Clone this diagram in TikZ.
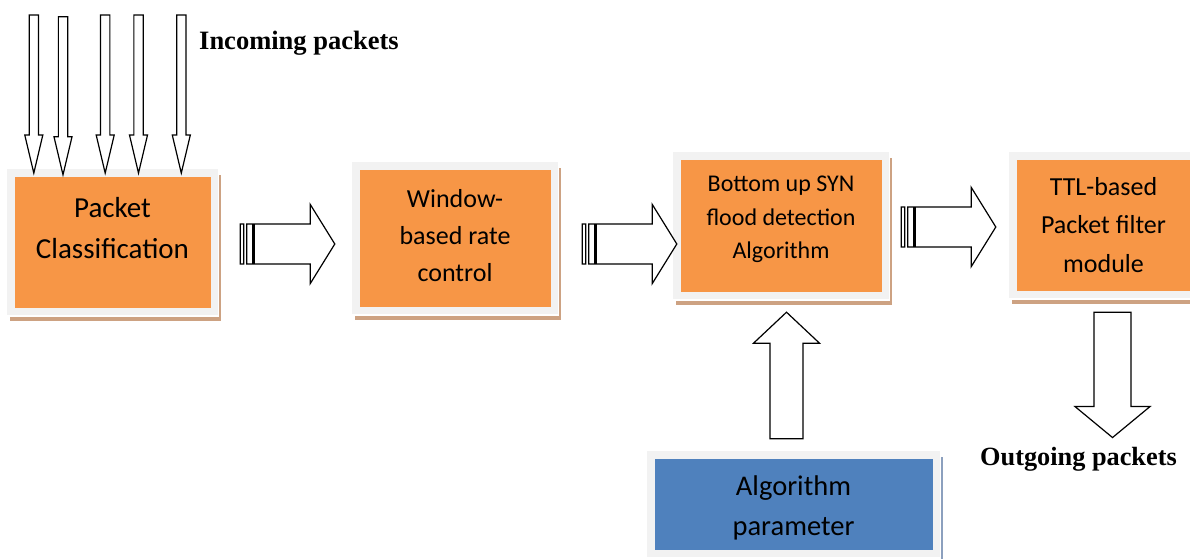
\documentclass[tikz,border=0pt]{standalone}
\usepackage{fontspec}
\setmainfont{Liberation Serif}
\newfontfamily\boxfont{Carlito}
\usetikzlibrary{calc}

\definecolor{boxorange}{RGB}{247,150,70}
\definecolor{boxblue}{RGB}{79,129,189}
\definecolor{framegrey}{RGB}{242,242,242}
\definecolor{tanshadow}{RGB}{205,162,130}
\definecolor{blueshadow}{RGB}{140,160,190}

\tikzset{
  card/.style n args={4}{minimum width=#1, minimum height=#2, inner sep=0pt, fill=framegrey,
    preaction={fill=#4, transform canvas={xshift=3pt,yshift=-5.5pt}},
    preaction={fill=white, transform canvas={xshift=1.2pt,yshift=-1.5pt}},
    path picture={\fill[#3] ([shift={(7.5pt,7.5pt)}]path picture bounding box.south west)
      rectangle ([shift={(-7.5pt,-7.5pt)}]path picture bounding box.north east);}},
  boxtext/.style 2 args={align=center, inner sep=0pt, text=black, font=\boxfont\fontsize{#1}{#2}\selectfont},
  flowlabel/.style={anchor=base west, inner sep=0pt, font=\bfseries\fontsize{#1}{30}\selectfont},
  blockarrow/.style={draw=black, fill=white, line width=1.2pt, line join=miter}
}

% striped block arrow, tail #1 to tip #2 (left to right)
\newcommand\stripedarrow[2]{%
  \draw[blockarrow] let \p1=(#1), \p2=(#2) in
    (\x1,\y1-20) rectangle (\x1+3.5,\y1+20)
    (\x1+6.5,\y1-20) rectangle (\x1+12.5,\y1+20)
    (\x1+14,\y1-20) -- (\x2-24.5,\y1-20) -- (\x2-24.5,\y1-39.5) -- (\x2,\y1)
      -- (\x2-24.5,\y1+39.5) -- (\x2-24.5,\y1+20) -- (\x1+14,\y1+20) -- cycle;}

% vertical block arrow: tail #1, tip #2, half shaft #3, half head #4, head length #5
\newcommand\shaftarrow[5]{%
  \draw[blockarrow] let \p1=(#1), \p2=(#2), \p3=($(#2)!#5!(#1)$) in
    (\x1-#3,\y1) -- (\x1-#3,\y3) -- (\x1-#4,\y3) -- (\x1,\y2)
      -- (\x1+#4,\y3) -- (\x1+#3,\y3) -- (\x1+#3,\y1) -- cycle;}

\begin{document}
\begin{tikzpicture}[x=1pt,y=1pt]
\path[use as bounding box,fill=white] (0,0) rectangle (1190,558);
\begin{scope}
\path[clip] (0,0) rectangle (1190,558);

\node[card={211pt}{146pt}{boxorange}{tanshadow}] (pc) at (112.5,316) {};
\node[card={206pt}{152pt}{boxorange}{tanshadow}] (wrc) at (455,320) {};
\node[card={216pt}{147pt}{boxorange}{tanshadow}] (syn) at (781,332.5) {};
\node[card={188pt}{146pt}{boxorange}{tanshadow}] (ttl) at (1103,333) {};
\node[card={293pt}{106pt}{boxblue}{blueshadow}] (par) at (793.5,54) {};

\node[boxtext={29}{41}] (pc-t) at ([yshift=13.7pt]pc.center) {Packet\\Classification};
\node[boxtext={26}{37}] (wrc-t) at ([yshift=2.5pt]wrc.center) {Window-\\based rate\\control};
\node[boxtext={24}{33.5}] (syn-t) at ([yshift=6pt]syn.center) {Bottom up SYN\\flood detection\\Algorithm};
\node[boxtext={26}{38.5}] (ttl-t) at ([xshift=0.5pt]ttl.center) {TTL-based\\Packet filter\\module};
\node[boxtext={28.5}{40}] (par-t) at ([yshift=-3.8pt]par.center) {Algorithm\\parameter};

\node[flowlabel=26.5] (in-lbl) at (199,508.7) {Incoming packets};
\node[flowlabel=26.3] (out-lbl) at (980,93) {Outgoing packets};

\foreach \cx/\ty/\dy [count=\i] in {33.8/543/4.3, 63/541.3/6, 105.2/543/4.3, 138.5/543/4.3, 181.3/543/4.3} {
  \coordinate (in\i) at (\cx,\ty);
  \coordinate (in\i-tip) at ([yshift=-\dy pt]pc.north -| in\i);
  \shaftarrow{in\i}{in\i-tip}{4.65}{9}{38pt}
}

\coordinate (a1) at ([xshift=22pt,yshift=-2pt]pc.east);
\coordinate (b1) at ([xshift=-17pt]wrc.west |- a1);
\stripedarrow{a1}{b1}

\coordinate (a2) at ([xshift=24pt]wrc.east |- a1);
\coordinate (b2) at ([xshift=4pt]syn.west |- a2);
\stripedarrow{a2}{b2}

\coordinate (a3) at ([xshift=12pt,yshift=-1.5pt]syn.east);
\coordinate (b3) at ([xshift=-13pt]ttl.west |- a3);
\stripedarrow{a3}{b3}

\coordinate (d1) at ([xshift=9.5pt,yshift=-14pt]ttl.south);
\coordinate (d2) at ([yshift=9pt]out-lbl.north -| d1);
\shaftarrow{d1}{d2}{18.5}{37.5}{31pt}

\coordinate (u1) at ([xshift=-7pt,yshift=12pt]par.north);
\coordinate (u2) at ([yshift=-13pt]syn.south -| u1);
\shaftarrow{u1}{u2}{16.5}{33}{31pt}
\end{scope}
\end{tikzpicture}
\end{document}
